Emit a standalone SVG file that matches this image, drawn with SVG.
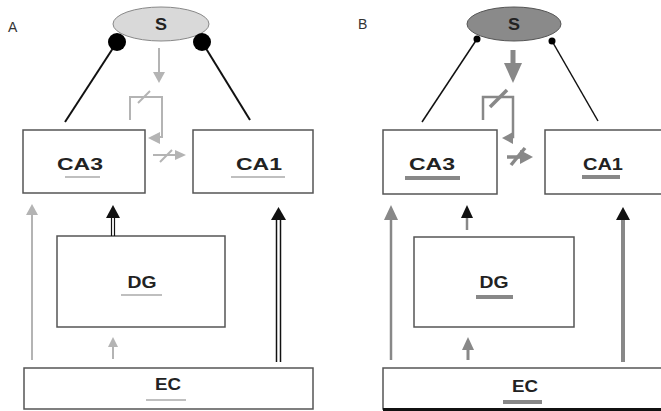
<svg xmlns="http://www.w3.org/2000/svg" width="661" height="411" viewBox="0 0 661 411">
<style>
.box{fill:#fff;stroke:#555;stroke-width:1.5}
.lbl{font-family:"Liberation Sans",Arial,sans-serif;font-weight:bold;font-size:16px;fill:#222;text-anchor:middle}
.pl{font-family:"Liberation Sans",Arial,sans-serif;font-size:14px;fill:#333}
.ulA{stroke:#aaa;stroke-width:1.5}
.ulB{stroke:#888;stroke-width:4}
.ga{stroke:#b4b4b4;stroke-width:2;fill:none}
.gah{fill:#b4b4b4}
.gb{stroke:#888;fill:none}
.gbh{fill:#888}
.bk{stroke:#111;fill:none}
.bkh{fill:#111}
</style>
<rect width="661" height="411" fill="#fff"/>
<text class="pl" x="8" y="32">A</text>
<text class="pl" x="358" y="29">B</text>

<!-- Panel A nodes -->
<g id="A-S">
<ellipse cx="161" cy="24" rx="48" ry="17" fill="#d9d9d9" stroke="#888" stroke-width="1"/>
<text class="lbl" x="161" y="30" textLength="12" lengthAdjust="spacingAndGlyphs">S</text>
</g>
<g id="A-CA3">
<rect class="box" x="23" y="130" width="122" height="63"/>
<text class="lbl" x="80" y="170" textLength="46" lengthAdjust="spacingAndGlyphs">CA3</text>
<line class="ulA" x1="65" y1="177" x2="100" y2="177"/>
</g>
<g id="A-CA1">
<rect class="box" x="193" y="130" width="120" height="63"/>
<text class="lbl" x="259" y="170" textLength="46" lengthAdjust="spacingAndGlyphs">CA1</text>
<line class="ulA" x1="231" y1="177" x2="285" y2="177"/>
</g>
<g id="A-DG">
<rect class="box" x="57" y="236" width="168" height="91"/>
<text class="lbl" x="142" y="288" textLength="29" lengthAdjust="spacingAndGlyphs">DG</text>
<line class="ulA" x1="121" y1="295" x2="162" y2="295"/>
</g>
<g id="A-EC">
<rect class="box" x="24" y="368" width="289" height="41"/>
<text class="lbl" x="168" y="390" textLength="26" lengthAdjust="spacingAndGlyphs">EC</text>
<line class="ulA" x1="146" y1="400" x2="186" y2="400"/>
</g>

<!-- Panel B nodes -->
<g id="B-S">
<ellipse cx="514" cy="24" rx="47" ry="17" fill="#8a8a8a" stroke="#555" stroke-width="1"/>
<text class="lbl" x="514" y="30" textLength="12" lengthAdjust="spacingAndGlyphs">S</text>
</g>
<g id="B-CA3">
<rect class="box" x="383" y="130" width="114" height="64"/>
<text class="lbl" x="432" y="170" textLength="46" lengthAdjust="spacingAndGlyphs">CA3</text>
<line class="ulB" x1="405" y1="178" x2="460" y2="178"/>
</g>
<g id="B-CA1">
<rect class="box" x="545" y="130" width="125" height="64"/>
<text class="lbl" x="603" y="170" textLength="40" lengthAdjust="spacingAndGlyphs">CA1</text>
<line class="ulB" x1="582" y1="177" x2="620" y2="177"/>
</g>
<g id="B-DG">
<rect class="box" x="414" y="237" width="160" height="90"/>
<text class="lbl" x="494" y="288" textLength="29" lengthAdjust="spacingAndGlyphs">DG</text>
<line class="ulB" x1="476" y1="297" x2="513" y2="297"/>
</g>
<g id="B-EC">
<rect class="box" x="383" y="368" width="290" height="41"/>
<line x1="383" y1="409.5" x2="661" y2="409.5" stroke="#111" stroke-width="3"/>
<text class="lbl" x="525" y="392" textLength="26" lengthAdjust="spacingAndGlyphs">EC</text>
<line class="ulB" x1="503" y1="402" x2="542" y2="402"/>
</g>

<g id="connectors">
<!-- Panel A -->
<line x1="117" y1="42" x2="65" y2="122" stroke="#111" stroke-width="2"/>
<line x1="202" y1="42" x2="250" y2="120" stroke="#111" stroke-width="2"/>
<circle cx="117" cy="42" r="9" fill="#000"/>
<circle cx="202" cy="42" r="9" fill="#000"/>
<line class="ga" x1="159" y1="48" x2="159" y2="73"/>
<polygon class="gah" points="153,72 165,72 159,83"/>
<path class="ga" d="M130,120 V97 H162 V137 H158"/>
<polygon class="gah" points="160,132 160,144 148,138"/>
<line class="ga" x1="138" y1="103" x2="150" y2="91"/>
<line class="ga" x1="153" y1="155" x2="176" y2="155"/>
<polygon class="gah" points="175,150 175,160 186,155"/>
<line class="ga" x1="160" y1="162" x2="172" y2="150"/>
<line class="ga" x1="32" y1="360" x2="32" y2="214"/>
<polygon class="gah" points="26,215 38,215 32,204"/>
<line class="bk" x1="111.5" y1="236" x2="111.5" y2="217" stroke-width="1.2"/>
<line class="bk" x1="114.5" y1="236" x2="114.5" y2="217" stroke-width="1.2"/>
<polygon class="bkh" points="106,218 120,218 113,205"/>
<line class="ga" x1="113" y1="359" x2="113" y2="346"/>
<polygon class="gah" points="108,347 118,347 113,337"/>
<line class="bk" x1="276.5" y1="362" x2="276.5" y2="219" stroke-width="1.5"/>
<line class="bk" x1="280.5" y1="362" x2="280.5" y2="219" stroke-width="1.5"/>
<polygon class="bkh" points="271,220 286,220 278.5,207"/>
<!-- Panel B -->
<line x1="477" y1="39" x2="422" y2="122" stroke="#111" stroke-width="1.5"/>
<line x1="552" y1="41" x2="598" y2="121" stroke="#111" stroke-width="1.5"/>
<circle cx="477" cy="39" r="3.5" fill="#000"/>
<circle cx="552" cy="41" r="3.5" fill="#000"/>
<line class="gb" x1="513" y1="50" x2="513" y2="64" stroke-width="5"/>
<polygon class="gbh" points="504,63 522,63 513,83"/>
<path class="gb" d="M483,120 V97 H513 V137 H510" stroke-width="2.5"/>
<polygon class="gbh" points="513,132 513,144 502,138"/>
<line class="gb" x1="490" y1="107" x2="507" y2="90" stroke-width="3.5"/>
<line class="gb" x1="507" y1="157" x2="522" y2="157" stroke-width="3.5"/>
<polygon class="gbh" points="520,150 520,164 533,157"/>
<line class="gb" x1="511" y1="165" x2="525" y2="148" stroke-width="3.5"/>
<line class="gb" x1="391" y1="360" x2="391" y2="219" stroke-width="2.5"/>
<polygon class="gbh" points="384,220 398,220 391,205"/>
<line class="gb" x1="467" y1="230" x2="467" y2="217" stroke-width="2.5"/>
<polygon class="bkh" points="461,218 473,218 467,205"/>
<line class="gb" x1="468" y1="360" x2="468" y2="349" stroke-width="3"/>
<polygon class="gbh" points="462,350 474,350 468,337"/>
<line class="gb" x1="623" y1="362" x2="623" y2="219" stroke-width="4"/>
<polygon class="bkh" points="616,220 630,220 623,207"/>
</g>
</svg>
